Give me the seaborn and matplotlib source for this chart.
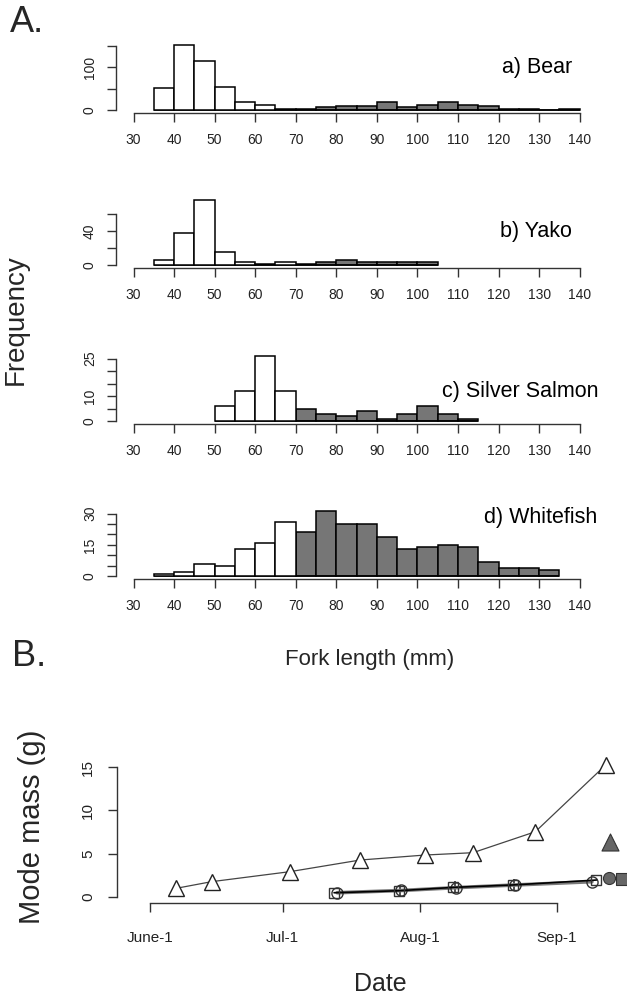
import numpy as np
import pandas as pd
import matplotlib
matplotlib.use("Agg")
import matplotlib.pyplot as plt
import seaborn as sns

sns.set_theme(style="ticks")
plt.rcParams["font.family"] = ["Liberation Sans", "DejaVu Sans"]

# ---- fork-length histograms (counts per 5 mm bin) ----
bin_width = 5
bear_start, bear_counts = 35, [51, 151, 115, 54, 18, 12, 3, 3, 6, 9, 9, 18, 7, 12, 18, 12, 9, 3, 3, 1, 3]
yako_start, yako_counts = 35, [6, 38, 76, 15, 3, 1, 4, 1, 3, 6, 4, 4, 3, 3]
silver_start, silver_counts = 50, [6, 12, 26, 12, 5, 3, 2, 4, 1, 3, 6, 3, 1]
white_start, white_counts = 35, [1, 2, 6, 5, 13, 16, 26, 21, 31, 25, 25, 19, 13, 14, 15, 14, 7, 4, 4, 3]
age_split = 70  # lengths >= this are shaded as older fish

panel_titles = ["a) Bear", "b) Yako", "c) Silver Salmon", "d) Whitefish"]
x_ticks = list(range(30, 150, 10))
y_ticks = [[0, 50, 100, 150], [0, 20, 40, 60], [0, 5, 10, 15, 20, 25], [0, 5, 10, 15, 20, 25, 30]]
y_ticklabels = [["0", "", "100", ""], ["0", "", "40", ""],
                ["0", "", "10", "", "", "25"], ["0", "", "", "15", "", "", "30"]]

# ---- mode mass through the season (day of year) ----
tri_day = [157.9, 165.9, 183.6, 199.5, 214.2, 225.0, 239.1, 255.0]
tri_mass = [0.97, 1.74, 2.9, 4.25, 4.83, 5.1, 7.53, 15.26]
sq_day = [193.6, 208.2, 220.6, 234.0, 252.9]
sq_mass = [0.46, 0.69, 1.08, 1.36, 1.93]
circ_day = [194.3, 208.8, 221.2, 234.6, 251.9]
circ_mass = [0.46, 0.72, 1.05, 1.36, 1.74]
plus_day = [208.5, 220.9, 234.3]
plus_mass = [0.70, 1.07, 1.36]
late_tri_day, late_tri_mass = [255.9], [6.37]
late_circ_day, late_circ_mass = [255.7], [2.13]
late_sq_day, late_sq_mass = [258.7], [2.0]
date_ticks = [152, 182, 213, 244]
date_labels = ["June-1", "Jul-1", "Aug-1", "Sep-1"]

W, H = 627, 1000
fig = plt.figure(figsize=(W / 100, H / 100), dpi=100)
axis_col = "#333333"
gray_fill = "#767676"


def frame(left, top, right, bottom):
    return fig.add_axes([left / W, 1 - bottom / H, (right - left) / W, (bottom - top) / H])


def style_axis(ax, size=10):
    for s in ("top", "right"):
        ax.spines[s].set_visible(False)
    for s in ("left", "bottom"):
        ax.spines[s].set_color(axis_col)
        ax.spines[s].set_linewidth(1.0)
    ax.tick_params(axis="both", which="major", bottom=True, left=True,
                   length=6.5, width=1.0, color=axis_col,
                   labelsize=size, labelcolor="#222222", direction="out")
    ax.tick_params(axis="x", pad=8)
    ax.tick_params(axis="y", pad=7)


series = [(bear_start, bear_counts), (yako_start, yako_counts),
          (silver_start, silver_counts), (white_start, white_counts)]
panel_bottoms = [112.6, 267.6, 423.6, 578.9]
title_pos = [(572, 67), (572, 232), (599, 392), (597, 518)]

for i, (start, counts) in enumerate(series):
    counts = np.asarray(counts)
    lo = start + bin_width * np.arange(len(counts))
    df = pd.DataFrame({
        "length": lo + bin_width / 2,
        "n": counts,
        "group": np.where(lo >= age_split, "old", "young"),
    })
    bot = panel_bottoms[i]
    ax = frame(115.7, bot - 70, 597.5, bot)
    end = start + bin_width * len(counts)
    sns.histplot(data=df, x="length", weights="n", hue="group",
                 binwidth=bin_width, binrange=(start, end),
                 palette={"young": "white", "old": gray_fill}, hue_order=["young", "old"],
                 multiple="layer", alpha=1, edgecolor="black", linewidth=1.1,
                 legend=False, ax=ax)
    top = counts.max()
    ax.set_xlim(30 - 0.04 * 110, 140 + 0.04 * 110)
    ax.set_ylim(-0.04 * top, 1.04 * top)
    ax.set_xticks(x_ticks)
    ax.set_yticks(y_ticks[i])
    ax.set_yticklabels(y_ticklabels[i], rotation=90, va="center")
    ax.spines["bottom"].set_bounds(30, 140)
    ax.spines["left"].set_bounds(0, y_ticks[i][-1])
    ax.set_xlabel("")
    ax.set_ylabel("")
    style_axis(ax)
    tx, ty = title_pos[i]
    fig.text(tx / W, 1 - ty / H, panel_titles[i], ha="right", va="center",
             fontsize=15.5, color="black")

fig.text(16 / W, 1 - 320 / H, "Frequency", rotation=90, ha="center", va="center", fontsize=20)
fig.text(370 / W, 1 - 660 / H, "Fork length (mm)", ha="center", va="center", fontsize=16)
fig.text(10 / W, 1 - 23 / H, "A.", ha="left", va="center", fontsize=26)
fig.text(12 / W, 1 - 656 / H, "B.", ha="left", va="center", fontsize=26)

# ---- panel B ----
axb = frame(116.7, 759.5, 627, 902.7)
line_col = "#444444"
sns.lineplot(x=circ_day, y=circ_mass, ax=axb, color="#7a7a7a", linewidth=2.6,
             marker="o", markersize=8, markerfacecolor="none", markeredgecolor="#333333",
             markeredgewidth=1.0, clip_on=False)
sns.lineplot(x=sq_day, y=sq_mass, ax=axb, color="black", linewidth=1.2,
             marker="s", markersize=7.5, markerfacecolor="none", markeredgecolor="#333333",
             markeredgewidth=1.0, clip_on=False)
sns.scatterplot(x=plus_day, y=plus_mass, ax=axb, marker="+", s=70, color="#222222",
                linewidth=1.1, clip_on=False)
sns.lineplot(x=tri_day, y=tri_mass, ax=axb, color=line_col, linewidth=0.9,
             marker="^", markersize=11, markerfacecolor="white", markeredgecolor="#222222",
             markeredgewidth=1.0, clip_on=False)
sns.scatterplot(x=late_tri_day, y=late_tri_mass, ax=axb, marker="^", s=150,
                color="#666666", edgecolor="#333333", linewidth=0.8, clip_on=False)
sns.scatterplot(x=late_circ_day, y=late_circ_mass, ax=axb, marker="o", s=75,
                color="#666666", edgecolor="#333333", linewidth=0.8, clip_on=False)
sns.scatterplot(x=late_sq_day, y=late_sq_mass, ax=axb, marker="s", s=75,
                color="#666666", edgecolor="#333333", linewidth=0.8, clip_on=False)

axb.set_xlim(144.47, 259.82)
axb.set_ylim(-0.695, 15.9)
axb.set_xticks(date_ticks)
axb.set_xticklabels(date_labels)
axb.set_yticks([0, 5, 10, 15])
axb.set_yticklabels(["0", "5", "10", "15"], rotation=90, va="center")
axb.spines["bottom"].set_bounds(date_ticks[0], date_ticks[-1])
axb.spines["left"].set_bounds(0, 15)
axb.set_xlabel("")
axb.set_ylabel("")
style_axis(axb, size=11)
axb.tick_params(axis="x", pad=14)
axb.tick_params(axis="y", pad=9)

fig.text(32 / W, 1 - 827 / H, "Mode mass (g)", rotation=90, ha="center", va="center", fontsize=21)
fig.text(380 / W, 1 - 984 / H, "Date", ha="center", va="center", fontsize=18)

fig.savefig("out.png", dpi=100)
